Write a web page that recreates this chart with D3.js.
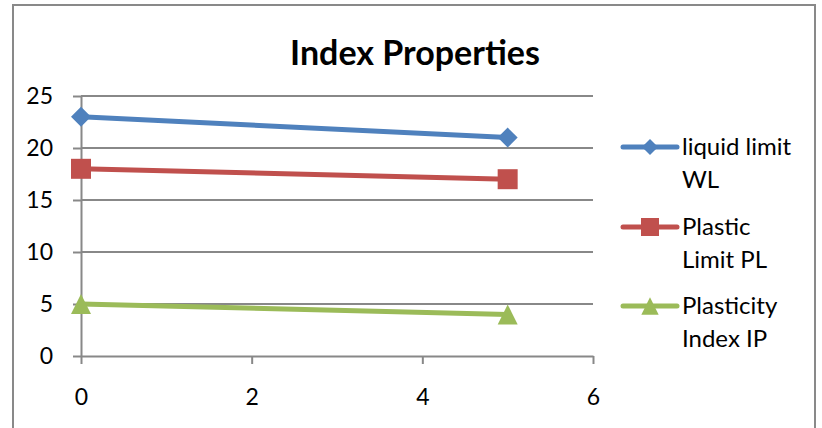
<!DOCTYPE html>
<html><head><meta charset="utf-8">
<script src="https://cdn.jsdelivr.net/npm/d3@7"></script>
<style>body{margin:0;background:#fff}svg{display:block}text{font-family:Lato,"Open Sans",sans-serif;fill:#000}</style>
</head><body><svg id="c" width="822" height="428"></svg>
<script>
const xValues = [0, 5];
const liquidLimit = [23, 21];
const plasticLimit = [18, 17];
const plasticityIndex = [5, 4];
const seriesNames = [["liquid limit", "WL"], ["Plastic", "Limit PL"], ["Plasticity", "Index IP"]];
const seriesColors = ["#4F81BD", "#C0504D", "#9BBB59"];
const yTicks = [0, 5, 10, 15, 20, 25];
const xTicks = [0, 2, 4, 6];
const title = "Index Properties";

const svg = d3.select("#c");
svg.append("rect").attr("x", 13).attr("y", 5).attr("width", 802).attr("height", 440)
  .attr("fill", "#fff").attr("stroke", "#898989").attr("stroke-width", 2);

const x = d3.scaleLinear().domain([0, 6]).range([81, 593]);
const y = d3.scaleLinear().domain([0, 25]).range([356, 96]);

svg.append("text").attr("x", 415).attr("y", 65).attr("text-anchor", "middle")
  .attr("font-size", 34).attr("font-weight", "bold").text(title);

// gridlines
svg.append("g").selectAll("line").data(yTicks.filter(d => d > 0)).join("line")
  .attr("x1", x(0)).attr("x2", x(6)).attr("y1", d => y(d)).attr("y2", d => y(d))
  .attr("stroke", "#888").attr("stroke-width", 2);

const yAxis = svg.append("g").attr("transform", `translate(${x(0)},0)`)
  .call(d3.axisLeft(y).tickValues(yTicks).tickFormat(d3.format("d")).tickSize(8).tickPadding(20).tickSizeOuter(0));
const xAxis = svg.append("g").attr("transform", `translate(0,${y(0)})`)
  .call(d3.axisBottom(x).tickValues(xTicks).tickFormat(d3.format("d")).tickSize(8).tickPadding(25).tickSizeOuter(0));
[yAxis, xAxis].forEach(a => {
  a.select(".domain").attr("stroke", "#888").attr("stroke-width", 2);
  a.selectAll(".tick line").attr("stroke", "#888").attr("stroke-width", 2);
  a.selectAll(".tick text").attr("font-size", 23).attr("font-family", "Lato,'Open Sans',sans-serif").attr("fill", "#000");
});

const diamond = {draw(ctx, size) { const r = Math.sqrt(size) / 2;
  ctx.moveTo(0, -r); ctx.lineTo(r, 0); ctx.lineTo(0, r); ctx.lineTo(-r, 0); ctx.closePath(); }};
const square = {draw(ctx, size) { const r = Math.sqrt(size) / 2;
  ctx.moveTo(-r, -r); ctx.lineTo(r, -r); ctx.lineTo(r, r); ctx.lineTo(-r, r); ctx.closePath(); }};
const triangle = {draw(ctx, size) { const r = Math.sqrt(size) / 2;
  ctx.moveTo(0, -r); ctx.lineTo(r, r); ctx.lineTo(-r, r); ctx.closePath(); }};

const data = [liquidLimit, plasticLimit, plasticityIndex];
const symbols = [diamond, square, triangle];
const sizes = [400, 400, 400];
const legSizes = [260, 324, 300];
const line = d3.line().x((d, i) => x(xValues[i])).y(d => y(d));

data.forEach((vals, k) => {
  const g = svg.append("g");
  g.append("path").datum(vals).attr("d", line).attr("fill", "none")
    .attr("stroke", seriesColors[k]).attr("stroke-width", 5);
  g.selectAll("path.m").data(vals).join("path").attr("class", "m")
    .attr("transform", (d, i) => `translate(${x(xValues[i])},${y(d)})`)
    .attr("d", d3.symbol().type(symbols[k]).size(sizes[k])).attr("fill", seriesColors[k]);
});

// legend
const legY = [147, 227, 306];
seriesNames.forEach((nm, k) => {
  const g = svg.append("g").attr("transform", `translate(0,${legY[k]})`);
  g.append("line").attr("x1", 623).attr("x2", 677).attr("y1", 0).attr("y2", 0)
    .attr("stroke", seriesColors[k]).attr("stroke-width", 5).attr("stroke-linecap", "round");
  g.append("path").attr("transform", "translate(650,0)")
    .attr("d", d3.symbol().type(symbols[k]).size(legSizes[k])).attr("fill", seriesColors[k]);
  g.append("text").attr("x", 682).attr("y", 8).attr("font-size", 24).text(nm[0]);
  g.append("text").attr("x", 682).attr("y", 41).attr("font-size", 24).text(nm[1]);
});
</script></body></html>
